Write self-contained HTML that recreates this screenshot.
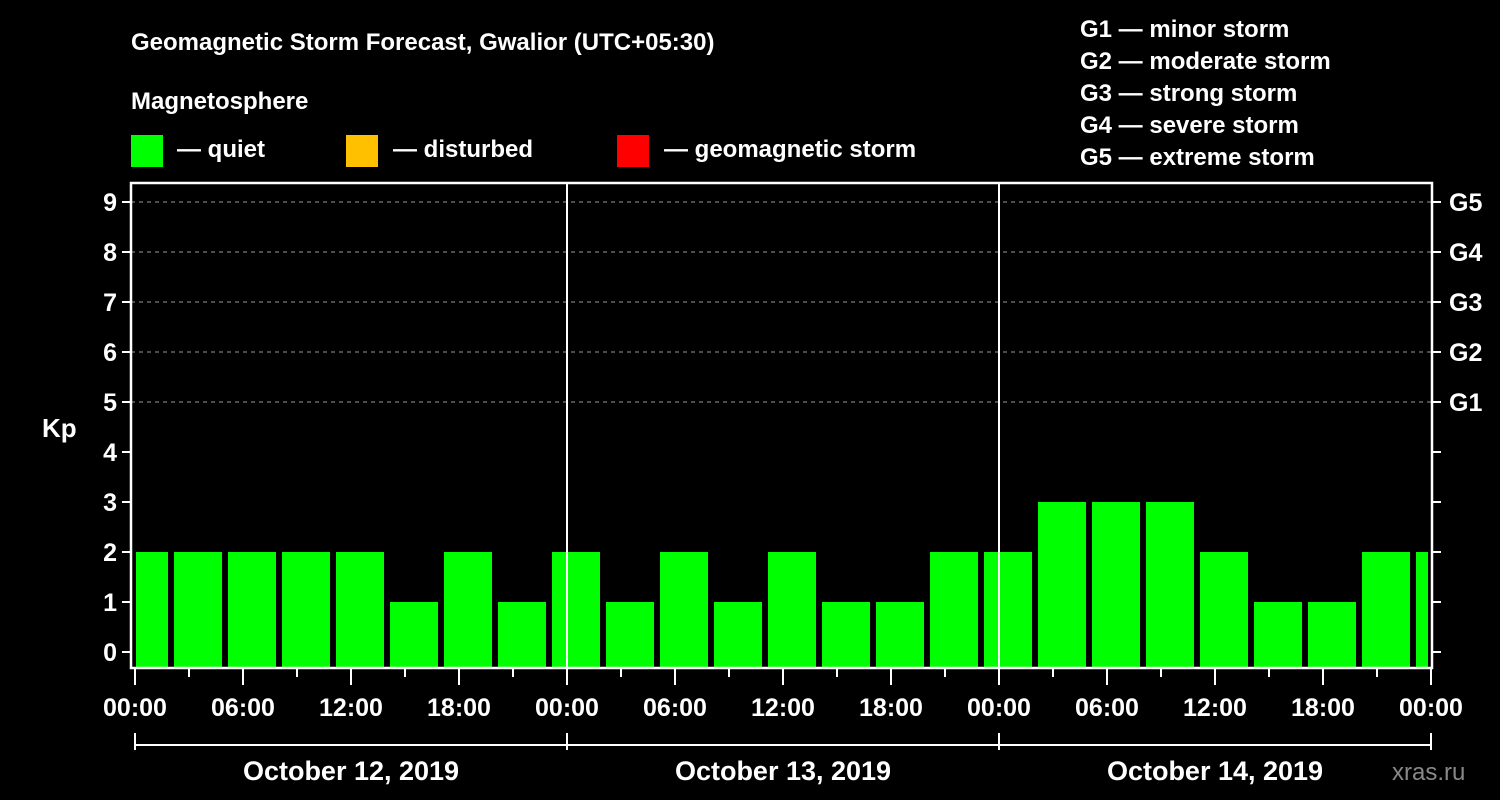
<!DOCTYPE html>
<html><head><meta charset="utf-8"><style>
html,body{margin:0;padding:0;background:#000;width:1500px;height:800px;overflow:hidden}
svg{display:block;font-family:"Liberation Sans",Arial,sans-serif;font-weight:bold}
</style></head><body>
<svg id="c" width="1500" height="800">
<text x="131" y="50" fill="#fff" font-size="24">Geomagnetic Storm Forecast, Gwalior (UTC+05:30)</text>
<text x="131" y="109" fill="#fff" font-size="24">Magnetosphere</text>
<rect x="131" y="135" width="32" height="32" fill="#00ff00"/>
<text x="177" y="157" fill="#fff" font-size="24">— quiet</text>
<rect x="346" y="135" width="32" height="32" fill="#ffc000"/>
<text x="393" y="157" fill="#fff" font-size="24">— disturbed</text>
<rect x="617" y="135" width="32" height="32" fill="#ff0000"/>
<text x="664" y="157" fill="#fff" font-size="24">— geomagnetic storm</text>
<g fill="#fff" font-size="24">
<text x="1080" y="37">G1 — minor storm</text>
<text x="1080" y="69">G2 — moderate storm</text>
<text x="1080" y="101">G3 — strong storm</text>
<text x="1080" y="133">G4 — severe storm</text>
<text x="1080" y="165">G5 — extreme storm</text>
</g>
<text x="42" y="437" fill="#fff" font-size="26">Kp</text>
<text x="1392" y="780" fill="#888" font-size="24" font-weight="normal">xras.ru</text>
<g id="plot"></g>
</svg>
<script>
const kpValues=[2,2,2,2,2,1,2,1,2,1,2,1,2,1,1,2,2,3,3,3,2,1,1,2,2];
const yTicks=[0,1,2,3,4,5,6,7,8,9];
const gLabels=["G1","G2","G3","G4","G5"];
const gLevels=[5,6,7,8,9];
const xLabels=["00:00","06:00","12:00","18:00","00:00","06:00","12:00","18:00","00:00","06:00","12:00","18:00","00:00"];
const dayLabels=["October 12, 2019","October 13, 2019","October 14, 2019"];
const firstBarHour=-1;

const X0=135,PXH=18,L=131,R=1432,T=183,B=668;
const xs=h=>X0+h*PXH;
const ys=k=>652-50*k;
const NS="http://www.w3.org/2000/svg";
const g=document.getElementById('plot');
function mk(tag,a){const e=document.createElementNS(NS,tag);for(const k in a)e.setAttribute(k,a[k]);g.appendChild(e);return e;}

// grid
gLevels.forEach(k=>{const e=mk('line',{x1:L,x2:R,y1:ys(k),y2:ys(k),stroke:'#999','stroke-dasharray':'4,4','stroke-width':1});

});
// bars
kpValues.forEach((v,i)=>{const h=firstBarHour+3*i;let x1=xs(h)+3,x2=xs(h+3)-3;x1=Math.max(x1,L+5);x2=Math.min(x2,R-4);if(x2<=x1)return;
const y=ys(v);const e=mk('rect',{x:x1,y:y,width:x2-x1,height:B-y,fill:'#00ff00'});

});
// day separators
[1,2].forEach(d=>{const e=mk('line',{x1:xs(24*d),x2:xs(24*d),y1:T,y2:B,stroke:'#fff','stroke-width':2});

});
// frame
const fr=mk('rect',{x:L,y:T,width:R-L,height:B-T,fill:'none',stroke:'#fff','stroke-width':2.5});


// y ticks
yTicks.forEach(k=>{mk('line',{x1:L-9,x2:L,y1:ys(k),y2:ys(k),stroke:'#fff','stroke-width':2});
mk('line',{x1:R,x2:R+9,y1:ys(k),y2:ys(k),stroke:'#fff','stroke-width':2});
const t=mk('text',{x:L-14,y:ys(k)+9,fill:'#fff','font-size':25,'text-anchor':'end'});t.textContent=k;

});
gLabels.forEach((s,i)=>{const t=mk('text',{x:R+17,y:ys(gLevels[i])+9,fill:'#fff','font-size':25});t.textContent=s;

});
// x ticks
for(let h=0;h<=72;h+=3){const major=h%6===0;mk('line',{x1:xs(h),x2:xs(h),y1:B,y2:B+(major?17:9),stroke:'#fff','stroke-width':2});}
xLabels.forEach((s,i)=>{const t=mk('text',{x:xs(i*6),y:716,fill:'#fff','font-size':25,'text-anchor':'middle'});t.textContent=s;

});
// day bracket
mk('line',{x1:xs(0),x2:xs(72),y1:745,y2:745,stroke:'#fff','stroke-width':2});
for(let d=0;d<=3;d++)mk('line',{x1:xs(24*d),x2:xs(24*d),y1:733,y2:750,stroke:'#fff','stroke-width':2});
dayLabels.forEach((s,i)=>{const t=mk('text',{x:xs(24*i+12),y:780,fill:'#fff','font-size':27,'text-anchor':'middle'});t.textContent=s;

});
</script>
</body></html>
